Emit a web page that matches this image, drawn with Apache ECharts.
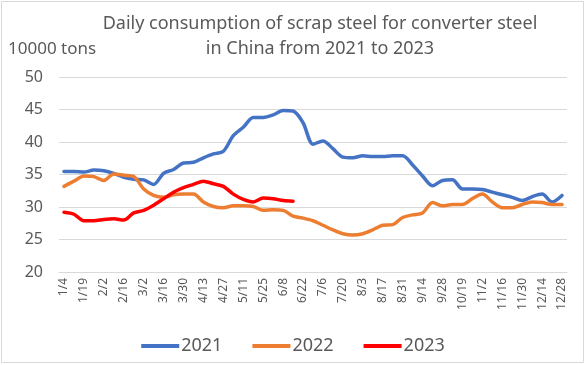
<!DOCTYPE html>
<html>
<head>
<meta charset="utf-8">
<script src="https://cdn.jsdelivr.net/npm/echarts@6/dist/echarts.min.js"></script>
<style>
html,body{margin:0;padding:0;background:#fff;}
#c{width:586px;height:365px;}
</style>
</head>
<body>
<div id="c"></div>
<script>
var categories = ['1/4','1/11','1/19','1/26','2/2','2/9','2/16','2/23','3/2','3/9','3/16','3/23','3/30','4/6','4/13','4/20','4/27','5/4','5/11','5/18','5/25','6/1','6/8','6/15','6/22','6/29','7/6','7/13','7/20','7/27','8/3','8/10','8/17','8/24','8/31','9/7','9/14','9/21','9/28','10/12','10/19','10/26','11/2','11/9','11/16','11/23','11/30','12/7','12/14','12/21','12/28'];
var s2021 = [35.5,35.5,35.4,35.7,35.6,35.2,34.6,34.3,34.2,33.5,35.2,35.8,36.8,36.9,37.6,38.2,38.6,41.0,42.3,43.8,43.8,44.2,44.9,44.8,43.0,39.7,40.2,39.0,37.7,37.6,37.9,37.8,37.8,37.9,37.9,36.5,34.8,33.3,34.1,34.2,32.8,32.8,32.7,32.3,31.9,31.5,31.0,31.6,32.0,30.8,31.8];
var s2022 = [33.2,34.0,34.8,34.7,34.1,35.1,34.9,34.7,32.8,31.8,31.5,31.9,32.0,32.0,30.8,30.1,29.9,30.2,30.2,30.1,29.5,29.6,29.5,28.6,28.3,27.9,27.2,26.5,25.9,25.7,25.9,26.5,27.2,27.3,28.4,28.8,29.1,30.7,30.2,30.4,30.4,31.3,32.0,30.8,29.9,29.9,30.4,30.8,30.7,30.4,30.4];
var s2023 = [29.2,28.9,27.9,27.9,28.1,28.2,28.0,29.1,29.5,30.3,31.3,32.3,33.0,33.5,34.0,33.6,33.2,32.0,31.2,30.8,31.4,31.3,31.0,30.9];
var yTicks = [20,25,30,35,40,45,50];

var chart = echarts.init(document.getElementById('c'));
var txt = '#595959';
function line(name, data, color){
  return {name:name, type:'line', data:data, smooth:0.3, symbol:'none',
    lineStyle:{width:3.5, color:color, cap:'round', join:'round'}, itemStyle:{color:color}};
}
chart.setOption({
  animation:false,
  backgroundColor:'#fff',
  textStyle:{fontFamily:'"Noto Sans", "DejaVu Sans", sans-serif'},
  graphic:[
    {type:'rect', shape:{x:1.5,y:1.5,width:582,height:361}, style:{fill:'none', stroke:'#d9d9d9', lineWidth:1}, silent:true},
    {type:'text', left:8, top:41, style:{text:'10000 tons', fontSize:17, fill:txt, fontFamily:'"Noto Sans", sans-serif'}}
  ],
  title:{text:'Daily consumption of scrap steel for converter steel\nin China from 2021 to 2023',
    left:315, textAlign:'center', top:6,
    textStyle:{fontSize:18, fontWeight:'normal', color:txt, lineHeight:25, fontFamily:'"Noto Sans", sans-serif'}},
  legend:{bottom:5, left:'center', itemWidth:38, itemHeight:4, itemGap:30, icon:'rect',
    textStyle:{fontSize:18, color:txt, padding:[0,0,0,-3]},
    data:['2021','2022','2023']},
  grid:{left:59, right:19, top:77.3, bottom:93, containLabel:false},
  xAxis:{type:'category', data:categories, boundaryGap:true,
    axisLine:{lineStyle:{color:'#d9d9d9', width:1}}, axisTick:{show:false},
    axisLabel:{interval:1, rotate:90, color:txt, fontSize:12, margin:6}},
  yAxis:{type:'value', min:yTicks[0], max:yTicks[yTicks.length-1], interval:5,
    axisLine:{show:false}, axisTick:{show:false},
    axisLabel:{color:txt, fontSize:16, margin:16},
    splitLine:{lineStyle:{color:'#d9d9d9', width:1}}},
  series:[line('2021', s2021, '#4472C4'), line('2022', s2022, '#ED7D31'), line('2023', s2023, '#FF0000')]
});
</script>
</body>
</html>
